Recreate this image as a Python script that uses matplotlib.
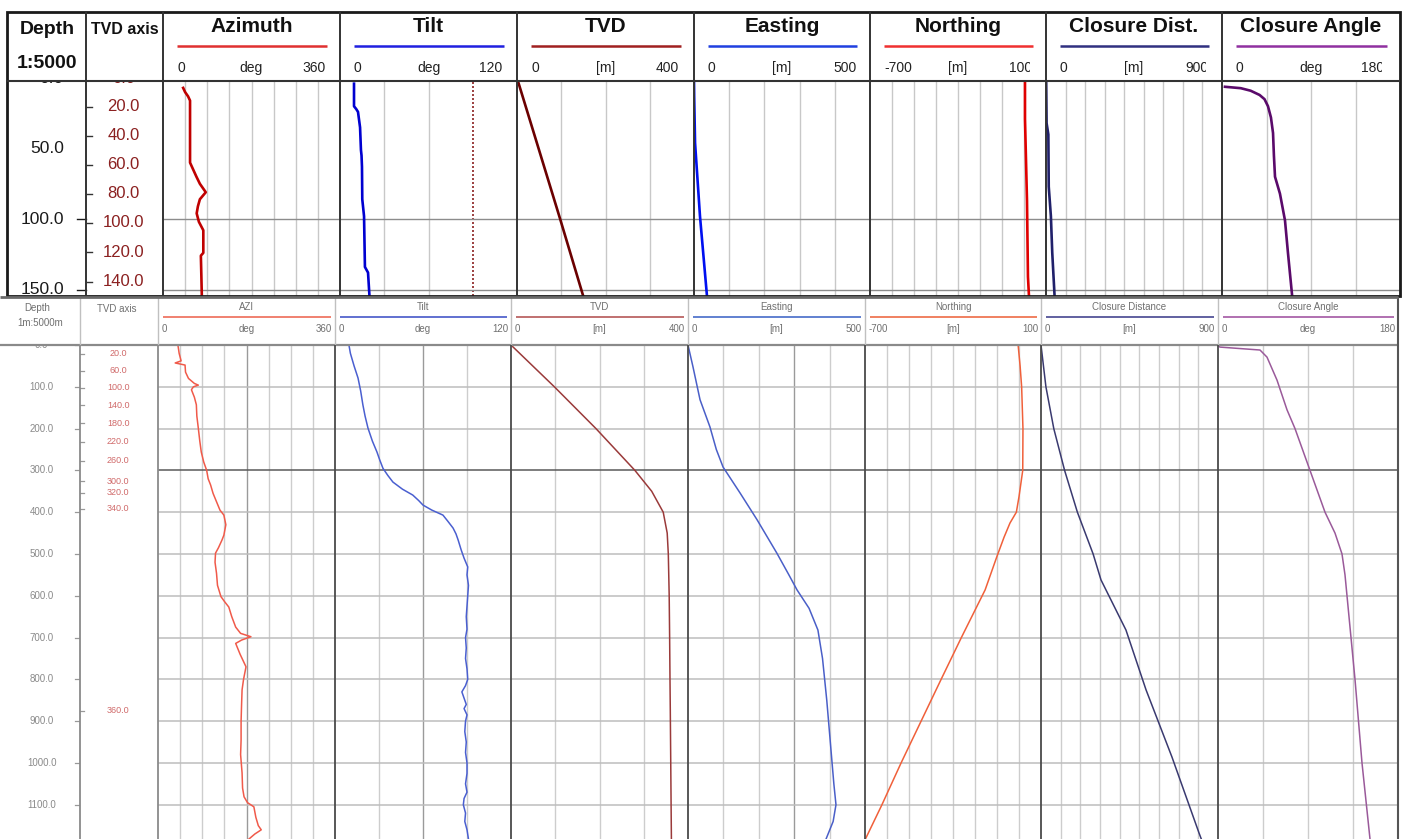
import numpy as np
import matplotlib
matplotlib.use("Agg")
import matplotlib.pyplot as plt
from matplotlib.transforms import Bbox, TransformedBbox

plt.rcParams['font.family'] = ['Liberation Sans', 'DejaVu Sans']

# ---------------- chart text / scales ----------------
top_titles = ["Azimuth", "Tilt", "TVD", "Easting", "Northing", "Closure Dist.", "Closure Angle"]
bot_titles = ["AZI", "Tilt", "TVD", "Easting", "Northing", "Closure Distance", "Closure Angle"]
units = ["deg", "deg", "[m]", "[m]", "[m]", "[m]", "deg"]
scale_min = [0, 0, 0, 0, -700, 0, 0]
scale_max = [360, 120, 400, 500, 100, 900, 180]
grid_step = [45, 30, 100, 100, 100, 100, 45]

top_depth_labels = [0, 50, 100, 150]
top_tvd_labels = [0, 20, 40, 60, 80, 100, 120, 140]
bot_depth_labels = [0, 100, 200, 300, 400, 500, 600, 700, 800, 900, 1000, 1100]
bot_tvd_labels = [20, 60, 100, 140, 180, 220, 260, 300, 320, 340, 360]

# ---------------- top panel data (MD 0-155 m) ----------------
top_azi_md = [7, 10, 13, 16, 40, 60, 65, 70, 75, 81, 86, 91, 96, 102, 108, 124, 126, 140, 155]
top_azi = [41, 45, 51, 55, 55, 55, 61.5, 68, 75, 87, 75, 71, 68.5, 73, 82, 82, 77, 78, 79]
top_tilt_md = [4, 20, 22, 24, 35, 51, 55, 63, 86, 98, 134, 138, 150, 155]
top_tilt = [9.5, 9.5, 11, 12.2, 13.6, 14.2, 14.6, 14.9, 15.1, 16.3, 16.9, 19.0, 19.7, 20]
top_tvd_md = [0, 50, 100, 155]
top_tvd = [0, 48.8, 97.5, 150]
top_east_md = [2, 13, 46, 98, 155]
top_east = [0, 0.5, 3, 17, 37]
top_north_md = [2, 29, 87, 141, 155]
top_north = [4.5, 4.5, 13.6, 18, 22.7]
top_cdist_md = [2, 32, 40, 77, 98, 124, 155]
top_cdist = [1, 3, 12, 14, 25, 32, 44]
top_cang_md = [6.2, 7.2, 9, 12, 15, 20, 28, 39, 55, 70, 82, 101, 124, 155]
top_cang = [3, 19, 29, 38, 43, 46.5, 49.5, 51.6, 52.5, 53.6, 58.6, 63.7, 66.7, 71]

# ---------------- bottom panel data (MD 0-1182 m) ----------------
bot_azi_md = [4, 20, 38, 43, 48, 65, 80, 92, 96, 100, 107, 125, 143, 170, 199, 230, 256, 280, 300, 320,
              335, 355, 375, 395, 407, 430, 455, 467, 485, 498, 520, 546, 575, 602, 615, 627, 650, 675,
              690, 698, 706, 714, 740, 770, 800, 825, 860, 900, 945, 980, 1024, 1060, 1081, 1095, 1105,
              1130, 1150, 1160, 1170, 1182]
bot_azi = [41, 43, 47, 35, 55, 56, 62, 74, 82, 72, 68, 74, 78, 79, 82, 85, 88, 93, 99, 102,
           107, 112, 119, 126, 134, 138, 134, 130, 123, 117, 116, 119, 121, 128, 136, 144, 150, 158,
           168, 189, 170, 158, 167, 179, 174, 171, 170, 169, 169, 168, 171, 172, 175, 182, 195,
           199, 204, 210, 197, 185]
bot_tilt_md = [0, 20, 50, 79, 110, 143, 170, 199, 230, 256, 275, 295, 312, 328, 345, 359, 372, 383, 395,
               407, 422, 438, 452, 467, 490, 510, 531, 550, 575, 600, 625, 650, 680, 700, 725, 750, 775,
               800, 815, 830, 845, 860, 870, 885, 900, 925, 950, 975, 1000, 1025, 1050, 1070, 1085,
               1100, 1120, 1140, 1160, 1182]
bot_tilt = [9.5, 10.5, 13, 15.7, 17.5, 19, 20.5, 22.5, 25.5, 28.6, 30.5, 32.7, 36, 39.5, 46, 53, 57, 60, 66,
            73.6, 77, 80.5, 82.5, 84, 86, 88, 90.5, 90, 91, 90.5, 90, 89.5, 90, 89, 89.5, 89, 90,
            90.5, 89, 86.5, 88, 89.5, 88, 90, 89, 88.5, 89.5, 89, 90, 90, 89, 90, 88,
            87.5, 89, 88.5, 90, 91]
bot_tvd_md = [0, 100, 200, 300, 350, 400, 450, 500, 600, 700, 800, 875, 1000, 1100, 1182]
bot_tvd = [0, 98, 192, 280, 318, 344, 353, 355.5, 357.5, 358.5, 359.3, 360, 361, 361.8, 362.5]
bot_east_md = [0, 52, 131, 196, 250, 292, 354, 418, 498, 550, 586, 630, 682, 750, 850, 950, 1050, 1100, 1140, 1182]
bot_east = [0, 14, 34, 62, 80, 99, 147, 195, 251, 285, 308, 342, 367, 380, 392, 402, 412, 418, 410, 390]
bot_north_md = [0, 50, 100, 200, 300, 363, 400, 426, 460, 507, 586, 700, 800, 900, 1000, 1100, 1182]
bot_north = [-4, 5, 12, 18, 17, 0, -12, -41, -68, -101, -154, -262, -354, -445, -536, -623, -698]
bot_cdist_md = [0, 100, 200, 300, 400, 500, 562, 682, 825, 986, 1167, 1182]
bot_cdist = [0, 25, 65, 120, 185, 265, 305, 432, 534, 666, 803, 815]
bot_cang_md = [2, 5, 12, 29, 84, 155, 200, 300, 400, 450, 500, 550, 600, 800, 1000, 1182]
bot_cang = [0, 2, 42, 49, 59, 69, 77, 92, 107, 117, 124, 127, 129, 137, 144, 152]

top_series = [(top_azi, top_azi_md), (top_tilt, top_tilt_md), (top_tvd, top_tvd_md), (top_east, top_east_md),
              (top_north, top_north_md), (top_cdist, top_cdist_md), (top_cang, top_cang_md)]
bot_series = [(bot_azi, bot_azi_md), (bot_tilt, bot_tilt_md), (bot_tvd, bot_tvd_md), (bot_east, bot_east_md),
              (bot_north, bot_north_md), (bot_cdist, bot_cdist_md), (bot_cang, bot_cang_md)]

# ---------------- styles ----------------
top_curve_colors = ["#c00000", "#0000d0", "#6b0000", "#0010f0", "#e00000", "#20206a", "#5a0a6a"]
top_hdr_colors = ["#e03030", "#2020e0", "#a02020", "#2040e0", "#f03030", "#303080", "#9030a0"]
bot_curve_colors = ["#f05a4a", "#4a5fd0", "#9a3a3a", "#4a5fc8", "#f0603a", "#3a3a70", "#9a5a9a"]
bot_hdr_colors = ["#f08070", "#6070d0", "#c07070", "#6080d0", "#f08060", "#6060a0", "#b070b0"]

W, H = 1404, 839
fig = plt.figure(figsize=(W / 100, H / 100), dpi=100)
fig.patch.set_facecolor("white")


def add_ax(x0, x1, y0, y1):
    return fig.add_axes([x0 / W, 1 - y1 / H, (x1 - x0) / W, (y1 - y0) / H])


ov = fig.add_axes([0, 0, 1, 1])
ov.set_xlim(0, W)
ov.set_ylim(H, 0)
ov.axis("off")
ov.set_zorder(20)


def seg(xs, ys, **kw):
    ov.plot(xs, ys, solid_capstyle="butt", **kw)


TOP_COLS = [7, 86, 163, 340, 517, 694, 870, 1046, 1222, 1400]
TOP_HDR = (12, 81)
TOP_DATA = (81, 296)
TOP_MD = (2.1, 154.6)

BOT_COLS = [0, 80, 158, 335, 511, 688, 865, 1041, 1218, 1398]
BOT_HDR = (297, 345)
BOT_DATA = (345, 839)
BOT_MD = (0, 1182)

# ================= TOP PANEL =================
for i in range(7):
    x0, x1 = TOP_COLS[i + 2], TOP_COLS[i + 3]
    ax = add_ax(x0, x1, *TOP_DATA)
    ax.set_xlim(scale_min[i], scale_max[i])
    ax.set_ylim(TOP_MD[1], TOP_MD[0])
    ax.axis("off")
    for g in np.arange(scale_min[i] + grid_step[i], scale_max[i], grid_step[i]):
        if i == 1 and g == 90:
            ax.axvline(g, color="#8b2020", lw=1.2, ls=(0, (1.2, 1.2)))
        else:
            ax.axvline(g, color="#c8c8c8", lw=1.0)
    for d in [100, 150]:
        ax.axhline(d, color="#8c8c8c", lw=1.0)
    vals, md = top_series[i]
    ax.plot(vals, md, color=top_curve_colors[i], lw=1.9, drawstyle="default")
    # header
    cx = (x0 + x1) / 2
    ov.text(cx, 26, top_titles[i], ha="center", va="center", fontsize=15, fontweight="bold", color="#111111")
    seg([x0 + 14, x1 - 13], [46, 46], color=top_hdr_colors[i], lw=1.8)
    ov.text(x0 + 14, 68, f"{scale_min[i]}", ha="left", va="center", fontsize=10, color="#222222")
    ov.text(cx, 68, units[i], ha="center", va="center", fontsize=10, color="#222222")
    t = ov.text(x0 + 139, 68, f"{scale_max[i]}", ha="left", va="center", fontsize=10, color="#222222")
    if scale_max[i] in (100, 900, 180):
        t.set_clip_box(TransformedBbox(Bbox.from_extents(x0, TOP_HDR[0], x0 + 160, TOP_HDR[1]), ov.transData))
        t.set_clip_on(True)

# depth column
dax = add_ax(TOP_COLS[0], TOP_COLS[1], *TOP_DATA)
dax.set_ylim(TOP_MD[1], TOP_MD[0])
dax.set_xlim(0, 1)
dax.axis("off")
for d in top_depth_labels:
    dax.text(0.72, d, f"{d:.1f}", ha="right", va="center", fontsize=12.5, color="#1a1a1a", clip_on=True)
for d in [100, 150]:
    dax.plot([0.89, 1.0], [d, d], color="#1a1a1a", lw=1.0, clip_on=False)

# TVD axis column
tax = add_ax(TOP_COLS[1], TOP_COLS[2], *TOP_DATA)
tax.set_ylim(TOP_MD[1], TOP_MD[0])
tax.set_xlim(0, 1)
tax.axis("off")
for v in top_tvd_labels:
    m = np.interp(v, top_tvd, top_tvd_md)
    tax.text(0.49, m, f"{v:.1f}", ha="center", va="center", fontsize=12, color="#8b2020", clip_on=True)
    tax.plot([0.01, 0.08], [m, m], color="#333333", lw=1.0)

# header texts (depth / tvd columns)
ov.text(47, 29, "Depth", ha="center", va="center", fontsize=14, fontweight="bold", color="#111111")
ov.text(47, 63, "1:5000", ha="center", va="center", fontsize=14, fontweight="bold", color="#111111")
ov.text(124.5, 29, "TVD axis", ha="center", va="center", fontsize=11.5, fontweight="bold", color="#111111")

# top borders
seg([TOP_COLS[0], TOP_COLS[-1]], [TOP_HDR[1], TOP_HDR[1]], color="#333333", lw=1.5)
for x in TOP_COLS[1:-1]:
    seg([x, x], [TOP_HDR[0], TOP_DATA[1]], color="#333333", lw=1.4)
ov.add_patch(plt.Rectangle((TOP_COLS[0], TOP_HDR[0]), TOP_COLS[-1] - TOP_COLS[0], TOP_DATA[1] - TOP_HDR[0],
                           fill=False, ec="#1a1a1a", lw=2.0))

# ================= BOTTOM PANEL =================
dark_grid = {0: [180], 1: [60], 3: [300]}
for i in range(7):
    x0, x1 = BOT_COLS[i + 2], BOT_COLS[i + 3]
    ax = add_ax(x0, x1, *BOT_DATA)
    ax.set_xlim(scale_min[i], scale_max[i])
    ax.set_ylim(BOT_MD[1], BOT_MD[0])
    ax.axis("off")
    for g in np.arange(scale_min[i] + grid_step[i], scale_max[i], grid_step[i]):
        c = "#9a9a9a" if g in dark_grid.get(i, []) else "#cdcdcd"
        ax.axvline(g, color=c, lw=1.0)
    for d in bot_depth_labels[1:]:
        ax.axhline(d, color="#5a5a5a" if d == 300 else "#bdbdbd", lw=1.1)
    vals, md = bot_series[i]
    ax.plot(vals, md, color=bot_curve_colors[i], lw=1.1)
    cx = (x0 + x1) / 2
    ov.text(cx, 307, bot_titles[i], ha="center", va="center", fontsize=7, color="#707070")
    seg([x0 + 5, x1 - 4], [316.5, 316.5], color=bot_hdr_colors[i], lw=1.4)
    ov.text(x0 + 4, 329.5, f"{scale_min[i]}", ha="left", va="center", fontsize=7, color="#707070")
    ov.text(cx, 329.5, units[i], ha="center", va="center", fontsize=7, color="#707070")
    ov.text(x1 - 3, 329.5, f"{scale_max[i]}", ha="right", va="center", fontsize=7, color="#707070")

bdax = add_ax(BOT_COLS[0], BOT_COLS[1], *BOT_DATA)
bdax.set_ylim(BOT_MD[1], BOT_MD[0])
bdax.set_xlim(0, 1)
bdax.axis("off")
for d in bot_depth_labels:
    bdax.text(0.52, d, f"{d:.1f}", ha="center", va="center", fontsize=7, color="#8a8a8a", clip_on=True)
    bdax.plot([0.94, 1.0], [d, d], color="#999999", lw=0.9)

btax = add_ax(BOT_COLS[1], BOT_COLS[2], *BOT_DATA)
btax.set_ylim(BOT_MD[1], BOT_MD[0])
btax.set_xlim(0, 1)
btax.axis("off")
for v in bot_tvd_labels:
    m = np.interp(v, bot_tvd, bot_tvd_md)
    btax.text(0.49, m, f"{v:.1f}", ha="center", va="center", fontsize=6.5, color="#d06a6a", clip_on=True)
    btax.plot([0.0, 0.05], [m, m], color="#999999", lw=0.9)

ov.text(37, 308, "Depth", ha="center", va="center", fontsize=7, color="#707070")
ov.text(40, 323, "1m:5000m", ha="center", va="center", fontsize=7, color="#707070")
ov.text(117, 309, "TVD axis", ha="center", va="center", fontsize=7, color="#707070")

# bottom borders
seg([BOT_COLS[0], BOT_COLS[-1]], [BOT_HDR[1], BOT_HDR[1]], color="#8a8a8a", lw=1.6)
for x in BOT_COLS[1:-1]:
    seg([x, x], [BOT_HDR[0], BOT_HDR[1]], color="#c0c0c0", lw=1.0)
    c = "#8a8a8a" if x in (80, 158) else "#4a4a4a"
    seg([x, x], [BOT_DATA[0], H + 2], color=c, lw=1.3)
seg([BOT_COLS[-1], BOT_COLS[-1]], [BOT_HDR[0], H + 2], color="#555555", lw=1.5)
seg([BOT_COLS[0], BOT_COLS[-1]], [BOT_HDR[0], BOT_HDR[0]], color="#6a6a6a", lw=2.0)

fig.savefig("out.png", dpi=100, facecolor="white")
